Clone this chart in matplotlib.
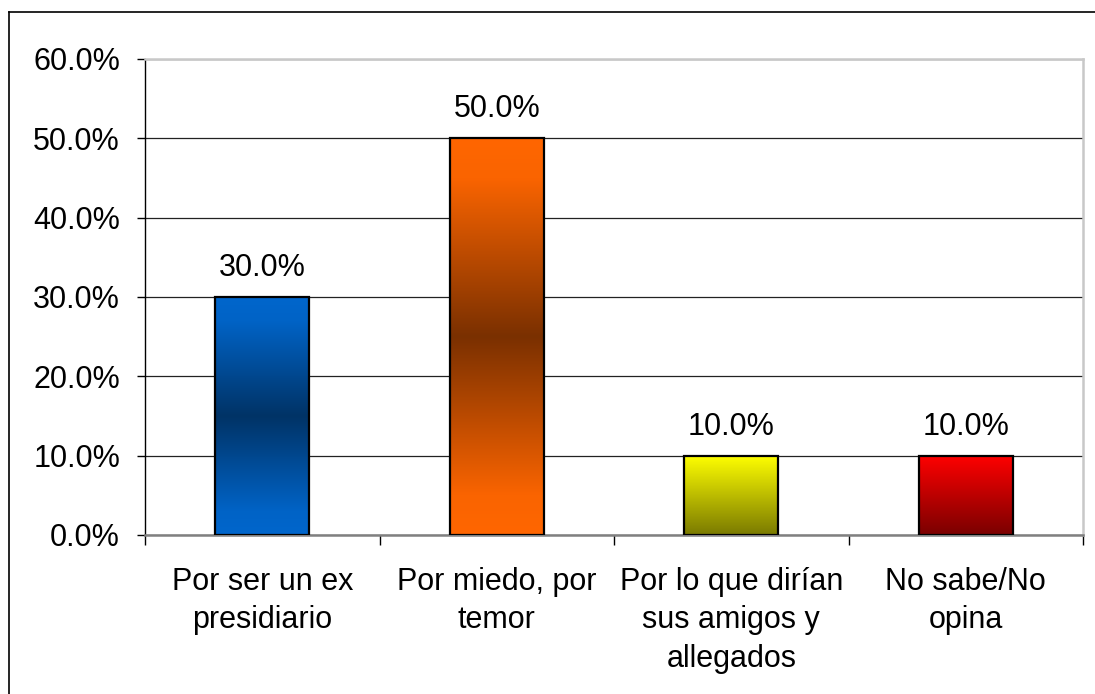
import matplotlib
matplotlib.use("Agg")
import matplotlib.pyplot as plt
import numpy as np
from matplotlib.colors import LinearSegmentedColormap
from matplotlib.lines import Line2D

categories = ["Por ser un ex\npresidiario", "Por miedo, por\ntemor",
              "Por lo que dirían\nsus amigos y\nallegados", "No sabe/No\nopina"]
values = [30.0, 50.0, 10.0, 10.0]
value_labels = ["30.0%", "50.0%", "10.0%", "10.0%"]
yticks = [0, 10, 20, 30, 40, 50, 60]
ytick_labels = ["0.0%", "10.0%", "20.0%", "30.0%", "40.0%", "50.0%", "60.0%"]
# gradient colour stops (position from bottom, colour)
gradients = [
    [(0.0, "#0066CC"), (0.1, "#0063C6"), (0.5, "#003366"), (0.9, "#0063C6"), (1.0, "#0066CC")],
    [(0.0, "#FF6600"), (0.1, "#FA6400"), (0.5, "#7A3000"), (0.9, "#FA6400"), (1.0, "#FF6600")],
    [(0.0, "#7A7A00"), (1.0, "#FFFF00")],
    [(0.0, "#7A0000"), (1.0, "#FF0000")],
]

plt.rcParams['font.family'] = ['Liberation Sans', 'DejaVu Sans']
W, H = 1095, 694
fig = plt.figure(figsize=(W / 100, H / 100), dpi=100)
fig.patch.set_facecolor('white')
ax = fig.add_axes([145 / W, 1 - 535 / H, (1083 - 145) / W, (535 - 59) / H])

x = np.arange(len(categories))
bars = ax.bar(x, values, width=0.4, facecolor='none', edgecolor='black',
              linewidth=1.6, zorder=3)
grad = np.linspace(0, 1, 256).reshape(-1, 1)
for bar, stops in zip(bars, gradients):
    cmap = LinearSegmentedColormap.from_list('g', stops)
    x0, y0 = bar.get_x(), bar.get_y()
    w, h = bar.get_width(), bar.get_height()
    ax.imshow(grad, extent=[x0, x0 + w, y0, y0 + h], origin='lower', cmap=cmap,
              aspect='auto', zorder=2, interpolation='bicubic')

for xi, v, lab in zip(x, values, value_labels):
    ax.annotate(lab, (xi, v), xytext=(0, 15), textcoords='offset points',
                ha='center', va='baseline', fontsize=22)

ax.set_xlim(-0.5, len(categories) - 0.5)
ax.set_ylim(0, 60)
ax.set_yticks(yticks)
ax.set_yticklabels(ytick_labels, fontsize=22)
ax.tick_params(axis='y', length=6, width=1, pad=12, color='black')

ax.set_xticks(np.arange(-0.5, len(categories), 1))
ax.set_xticklabels([])
ax.set_xticks(x, minor=True)
ax.set_xticklabels(categories, minor=True, fontsize=22, linespacing=1.36)
ax.tick_params(axis='x', which='major', length=7, width=1, color='black')
ax.tick_params(axis='x', which='minor', length=0, pad=23)

ax.yaxis.grid(True, color='#222222', linewidth=0.9)
ax.set_axisbelow(True)

ax.spines['left'].set_color('black')
ax.spines['left'].set_linewidth(1.0)
ax.spines['bottom'].set_color('#808080')
ax.spines['bottom'].set_linewidth(1.8)
for s in ('top', 'right'):
    ax.spines[s].set_color('#c8c8c8')
    ax.spines[s].set_linewidth(1.8)

# outer chart frame
fig.add_artist(Line2D([9 / W, 9 / W], [0, 1 - 12 / H], transform=fig.transFigure,
                      color='black', linewidth=1.2))
fig.add_artist(Line2D([9 / W, 1], [1 - 12 / H, 1 - 12 / H], transform=fig.transFigure,
                      color='black', linewidth=1.2))

fig.savefig('out.png', dpi=100)
